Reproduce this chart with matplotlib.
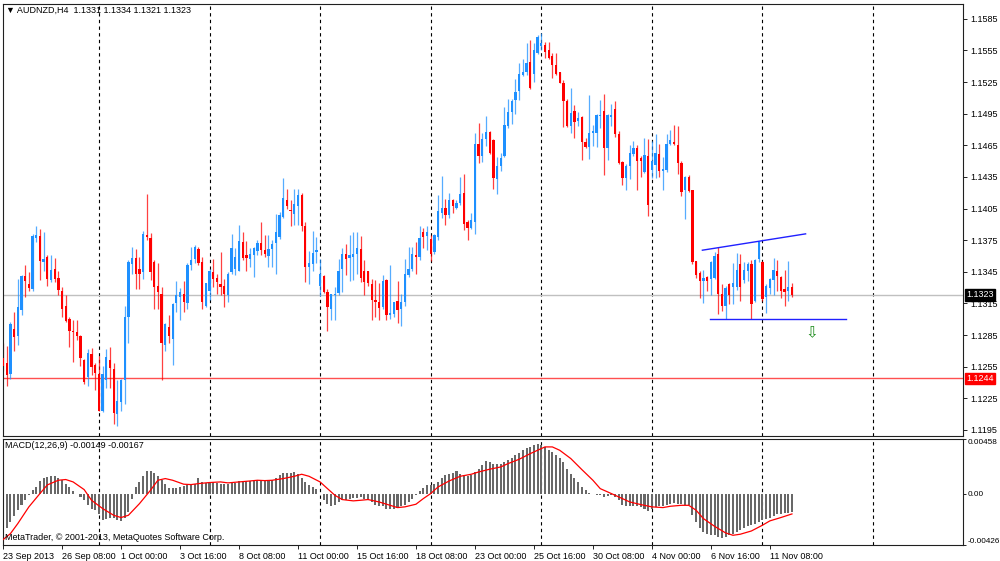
import numpy as np
import matplotlib
matplotlib.use('Agg')
import matplotlib.pyplot as plt

plt.rcParams['font.family'] = ['Liberation Sans', 'DejaVu Sans']
plt.rcParams['font.size'] = 6.5

# ---- AUDNZD H4 candles (bar 1 = 23 Sep 2013, last bar = 12 Nov 12:00) ----
opens = [
    1.1263, 1.1258, 1.1248, 1.1291, 1.1284, 1.1309, 1.1341, 1.1333, 1.1329, 1.1377,
    1.1379, 1.1354, 1.1359, 1.1337, 1.1348, 1.1339, 1.1327, 1.1313, 1.1300, 1.1289,
    1.1288, 1.1284, 1.1261, 1.1245, 1.1267, 1.1257, 1.1248, 1.1213, 1.1242, 1.1261,
    1.1253, 1.1210, 1.1221, 1.1242, 1.1302, 1.1352, 1.1358, 1.1348, 1.1345, 1.1380,
    1.1377, 1.1354, 1.1332, 1.1324, 1.1276, 1.1293, 1.1281, 1.1315, 1.1321, 1.1324,
    1.1315, 1.1351, 1.1357, 1.1367, 1.1354, 1.1313, 1.1327, 1.1345, 1.1339, 1.1333,
    1.1332, 1.1323, 1.1345, 1.1348, 1.1346, 1.1373, 1.1361, 1.1357, 1.1361, 1.1365,
    1.1372, 1.1366, 1.1360, 1.1367, 1.1372, 1.1378, 1.1397, 1.1413, 1.1404, 1.1400,
    1.1407, 1.1418, 1.1388, 1.1350, 1.1352, 1.1364, 1.1332, 1.1341, 1.1326, 1.1310,
    1.1323, 1.1325, 1.1348, 1.1362, 1.1358, 1.1359, 1.1362, 1.1367, 1.1346, 1.1346,
    1.1333, 1.1318, 1.1316, 1.1312, 1.1337, 1.1304, 1.1305, 1.1317, 1.1310, 1.1316,
    1.1342, 1.1348, 1.1361, 1.1359, 1.1383, 1.1379, 1.1376, 1.1364, 1.1378, 1.1401,
    1.1406, 1.1399, 1.1413, 1.1406, 1.1410, 1.1420, 1.1392, 1.1387, 1.1392, 1.1466,
    1.1455, 1.1471, 1.1478, 1.1470, 1.1433, 1.1445, 1.1455, 1.1483, 1.1497, 1.1508,
    1.1517, 1.1532, 1.1535, 1.1544, 1.1533, 1.1553, 1.1559, 1.1560, 1.1555, 1.1550,
    1.1541, 1.1535, 1.1524, 1.1507, 1.1483, 1.1498, 1.1488, 1.1492, 1.1468, 1.1463,
    1.1477, 1.1477, 1.1493, 1.1498, 1.1462, 1.1492, 1.1499, 1.1476, 1.1449, 1.1434,
    1.1445, 1.1457, 1.1462, 1.1453, 1.1440, 1.1455, 1.1442, 1.1446, 1.1457, 1.1441,
    1.1442, 1.1466, 1.1468, 1.1465, 1.1448, 1.1423, 1.1435, 1.1423, 1.1355, 1.1344,
    1.1336, 1.1340, 1.1338, 1.1339, 1.1362, 1.1324, 1.1313, 1.1333, 1.1331, 1.1331,
    1.1352, 1.1337, 1.1346, 1.1352, 1.1317, 1.1357, 1.1354, 1.1321, 1.1330, 1.1337,
    1.1346, 1.1340, 1.1329, 1.1327, 1.1331]

highs = [
    1.1277, 1.1275, 1.1297, 1.1307, 1.1338, 1.1342, 1.1351, 1.1345, 1.1381, 1.1388,
    1.1386, 1.1383, 1.1361, 1.1361, 1.1358, 1.1346, 1.1331, 1.1323, 1.1302, 1.1299,
    1.1299, 1.1285, 1.1262, 1.1272, 1.1273, 1.1258, 1.1265, 1.1256, 1.1272, 1.1274,
    1.1258, 1.1242, 1.1243, 1.1313, 1.1356, 1.1369, 1.1367, 1.1359, 1.1384, 1.1419,
    1.1382, 1.1356, 1.1353, 1.1331, 1.1296, 1.1304, 1.1315, 1.1336, 1.1330, 1.1336,
    1.1353, 1.1369, 1.1370, 1.1369, 1.1359, 1.1334, 1.1348, 1.1357, 1.1343, 1.1364,
    1.1338, 1.1345, 1.1381, 1.1368, 1.1389, 1.1383, 1.1374, 1.1368, 1.1369, 1.1375,
    1.1392, 1.1380, 1.1380, 1.1375, 1.1400, 1.1402, 1.1434, 1.1424, 1.1413, 1.1424,
    1.1424, 1.1420, 1.1392, 1.1365, 1.1384, 1.1378, 1.1357, 1.1342, 1.1329, 1.1324,
    1.1331, 1.1357, 1.1368, 1.1371, 1.1380, 1.1383, 1.1383, 1.1379, 1.1356, 1.1346,
    1.1338, 1.1337, 1.1334, 1.1342, 1.1338, 1.1351, 1.1316, 1.1336, 1.1324, 1.1357,
    1.1369, 1.1369, 1.1373, 1.1388, 1.1387, 1.1388, 1.1380, 1.1381, 1.1418, 1.1436,
    1.1414, 1.1420, 1.1414, 1.1413, 1.1435, 1.1438, 1.1394, 1.1401, 1.1477, 1.1486,
    1.1477, 1.1493, 1.1479, 1.1471, 1.1454, 1.1458, 1.1501, 1.1509, 1.1509, 1.1528,
    1.1543, 1.1547, 1.1562, 1.1565, 1.1562, 1.1570, 1.1572, 1.1563, 1.1563, 1.1553,
    1.1553, 1.1535, 1.1527, 1.1509, 1.1519, 1.1503, 1.1497, 1.1493, 1.1472, 1.1513,
    1.1484, 1.1495, 1.1508, 1.1514, 1.1495, 1.1504, 1.1507, 1.1479, 1.1450, 1.1447,
    1.1465, 1.1469, 1.1465, 1.1455, 1.1472, 1.1471, 1.1469, 1.1476, 1.1466, 1.1454,
    1.1476, 1.1480, 1.1484, 1.1483, 1.1450, 1.1436, 1.1437, 1.1423, 1.1355, 1.1346,
    1.1347, 1.1341, 1.1355, 1.1364, 1.1369, 1.1333, 1.1332, 1.1334, 1.1353, 1.1363,
    1.1362, 1.1354, 1.1354, 1.1356, 1.1357, 1.1374, 1.1355, 1.1333, 1.1339, 1.1358,
    1.1356, 1.1341, 1.1347, 1.1355, 1.1334]

lows = [
    1.1251, 1.1237, 1.1243, 1.1270, 1.1276, 1.1304, 1.1321, 1.1327, 1.1327, 1.1373,
    1.1337, 1.1346, 1.1332, 1.1335, 1.1335, 1.1323, 1.1302, 1.1297, 1.1274, 1.1259,
    1.1280, 1.1256, 1.1239, 1.1237, 1.1247, 1.1233, 1.1213, 1.1212, 1.1235, 1.1235,
    1.1201, 1.1199, 1.1213, 1.1220, 1.1277, 1.1343, 1.1329, 1.1329, 1.1338, 1.1375,
    1.1337, 1.1310, 1.1310, 1.1242, 1.1270, 1.1277, 1.1257, 1.1307, 1.1299, 1.1307,
    1.1310, 1.1347, 1.1353, 1.1351, 1.1310, 1.1312, 1.1318, 1.1331, 1.1324, 1.1323,
    1.1312, 1.1316, 1.1343, 1.1342, 1.1346, 1.1356, 1.1346, 1.1350, 1.1340, 1.1361,
    1.1361, 1.1359, 1.1350, 1.1350, 1.1343, 1.1376, 1.1396, 1.1405, 1.1388, 1.1389,
    1.1389, 1.1384, 1.1335, 1.1333, 1.1346, 1.1353, 1.1322, 1.1325, 1.1289, 1.1299,
    1.1299, 1.1323, 1.1326, 1.1342, 1.1336, 1.1337, 1.1343, 1.1335, 1.1323, 1.1332,
    1.1299, 1.1302, 1.1299, 1.1310, 1.1299, 1.1300, 1.1302, 1.1296, 1.1294, 1.1313,
    1.1340, 1.1346, 1.1343, 1.1356, 1.1368, 1.1366, 1.1355, 1.1362, 1.1375, 1.1396,
    1.1389, 1.1396, 1.1401, 1.1405, 1.1408, 1.1385, 1.1375, 1.1386, 1.1381, 1.1448,
    1.1449, 1.1464, 1.1457, 1.1424, 1.1419, 1.1441, 1.1454, 1.1481, 1.1485, 1.1495,
    1.1508, 1.1531, 1.1532, 1.1518, 1.1525, 1.1552, 1.1555, 1.1548, 1.1547, 1.1529,
    1.1532, 1.1524, 1.1482, 1.1482, 1.1477, 1.1472, 1.1483, 1.1451, 1.1462, 1.1452,
    1.1464, 1.1463, 1.1481, 1.1437, 1.1451, 1.1483, 1.1473, 1.1447, 1.1427, 1.1423,
    1.1433, 1.1455, 1.1423, 1.1435, 1.1439, 1.1398, 1.1434, 1.1434, 1.1435, 1.1423,
    1.1440, 1.1465, 1.1465, 1.1438, 1.1417, 1.1395, 1.1421, 1.1352, 1.1339, 1.1320,
    1.1315, 1.1327, 1.1323, 1.1338, 1.1305, 1.1308, 1.1300, 1.1314, 1.1314, 1.1328,
    1.1317, 1.1334, 1.1336, 1.1300, 1.1316, 1.1354, 1.1317, 1.1306, 1.1324, 1.1323,
    1.1327, 1.1320, 1.1313, 1.1317, 1.1321]

closes = [
    1.1256, 1.1247, 1.1295, 1.1283, 1.1312, 1.1341, 1.1336, 1.1330, 1.1379, 1.1380,
    1.1355, 1.1357, 1.1338, 1.1347, 1.1338, 1.1328, 1.1310, 1.1298, 1.1289, 1.1288,
    1.1284, 1.1263, 1.1240, 1.1268, 1.1255, 1.1249, 1.1213, 1.1248, 1.1264, 1.1254,
    1.1211, 1.1222, 1.1242, 1.1302, 1.1354, 1.1358, 1.1343, 1.1343, 1.1381, 1.1378,
    1.1345, 1.1331, 1.1326, 1.1277, 1.1295, 1.1284, 1.1314, 1.1323, 1.1326, 1.1316,
    1.1351, 1.1356, 1.1369, 1.1353, 1.1316, 1.1334, 1.1346, 1.1338, 1.1335, 1.1331,
    1.1324, 1.1343, 1.1368, 1.1359, 1.1374, 1.1358, 1.1358, 1.1362, 1.1368, 1.1372,
    1.1366, 1.1362, 1.1367, 1.1371, 1.1383, 1.1399, 1.1415, 1.1407, 1.1403, 1.1409,
    1.1418, 1.1388, 1.1350, 1.1353, 1.1363, 1.1366, 1.1343, 1.1326, 1.1312, 1.1324,
    1.1324, 1.1346, 1.1362, 1.1357, 1.1361, 1.1362, 1.1368, 1.1339, 1.1335, 1.1334,
    1.1318, 1.1316, 1.1311, 1.1336, 1.1304, 1.1306, 1.1316, 1.1309, 1.1316, 1.1343,
    1.1348, 1.1362, 1.1359, 1.1377, 1.1378, 1.1383, 1.1362, 1.1380, 1.1403, 1.1406,
    1.1399, 1.1413, 1.1407, 1.1410, 1.1419, 1.1390, 1.1387, 1.1394, 1.1466, 1.1455,
    1.1471, 1.1478, 1.1458, 1.1434, 1.1445, 1.1453, 1.1484, 1.1497, 1.1507, 1.1516,
    1.1533, 1.1535, 1.1543, 1.1519, 1.1555, 1.1568, 1.1562, 1.1554, 1.1548, 1.1541,
    1.1533, 1.1524, 1.1507, 1.1483, 1.1496, 1.1487, 1.1491, 1.1468, 1.1463, 1.1477,
    1.1479, 1.1494, 1.1494, 1.1462, 1.1494, 1.1494, 1.1476, 1.1448, 1.1434, 1.1445,
    1.1458, 1.1462, 1.1450, 1.1450, 1.1456, 1.1408, 1.1450, 1.1458, 1.1441, 1.1443,
    1.1466, 1.1470, 1.1466, 1.1448, 1.1421, 1.1435, 1.1422, 1.1354, 1.1342, 1.1336,
    1.1339, 1.1336, 1.1354, 1.1360, 1.1324, 1.1313, 1.1330, 1.1323, 1.1334, 1.1347,
    1.1331, 1.1347, 1.1352, 1.1314, 1.1356, 1.1373, 1.1319, 1.1332, 1.1338, 1.1347,
    1.1341, 1.1327, 1.1326, 1.1331, 1.1323]

# MACD(12,26,9) main line, shown as histogram (units of 1e-5)
macd_main = [
    -309, -281, -234, -186, -136, -95, -47, -11, 31, 58,
    108, 133, 142, 147, 147, 136, 114, 86, 58, 25,
    3, -25, -53, -95, -122, -136, -164, -220, -206, -197,
    -197, -214, -228, -197, -150, -39, 58, 100, 147, 189,
    189, 178, 147, 120, 86, 53, 53, 53, 58, 64,
    72, 81, 86, 136, 100, 92, 100, 100, 92, 86,
    81, 86, 92, 92, 108, 108, 108, 108, 114, 120,
    120, 114, 114, 114, 136, 156, 175, 178, 178, 183,
    170, 133, 100, 78, 58, 44, -3, -47, -81, -100,
    -95, -67, -53, -47, -39, -31, -31, -25, -39, -53,
    -67, -95, -103, -103, -122, -128, -128, -117, -103, -89,
    -67, -39, -11, 25, 50, 72, 72, 86, 100, 136,
    161, 170, 178, 189, 170, 156, 147, 161, 183, 211,
    239, 275, 267, 253, 247, 253, 267, 286, 303, 322,
    342, 364, 381, 389, 406, 414, 406, 392, 370, 350,
    322, 303, 267, 211, 170, 136, 100, 58, 31, 8,
    -3, -6, -11, -25, -19, -11, -25, -53, -95, -103,
    -103, -103, -103, -108, -122, -142, -122, -108, -103, -103,
    -95, -81, -72, -81, -86, -89, -95, -178, -234, -281,
    -317, -336, -345, -345, -359, -364, -359, -345, -331, -317,
    -297, -281, -270, -261, -247, -234, -220, -206, -197, -186,
    -170, -164, -158, -156, -149]

# signal line, read at these bars (units of 1e-5)
signal_bar = [1, 3, 5, 8, 11, 13, 16, 18, 20, 23, 25, 28, 31, 33, 35, 38, 41, 43, 45, 47,
              50, 52, 54, 57, 60, 62, 65, 68, 70, 72, 74, 77, 80, 82, 84, 87, 89, 91, 93, 96,
              98, 100, 103, 106, 108, 110, 113, 115, 117, 119, 122, 125, 128, 130, 133, 136,
              138, 141, 144, 146, 148, 150, 152, 155, 158, 161, 163, 166, 169, 171, 174, 177,
              180, 182, 185, 187, 189, 191, 194, 197, 199, 201, 204, 207, 209, 212, 215]
signal_val = [-381, -331, -247, -108, 3, 75, 114, 120, 100, 36, -53, -122, -178, -197, -178,
              -81, 31, 114, 128, 114, 81, 78, 86, 95, 100, 92, 100, 108, 114, 111, 114, 128,
              147, 164, 147, 100, 44, -11, -47, -58, -53, -47, -67, -95, -114, -108, -86, -39,
              3, 58, 108, 147, 164, 183, 206, 225, 253, 289, 336, 364, 392, 392, 364, 295, 203,
              114, 44, 3, -39, -67, -89, -108, -114, -103, -95, -95, -136, -206, -270, -325,
              -345, -336, -309, -261, -225, -197, -167]

# time axis labels every 16 bars
time_labels = ["23 Sep 2013", "26 Sep 08:00", "1 Oct 00:00", "3 Oct 16:00", "8 Oct 08:00",
               "11 Oct 00:00", "15 Oct 16:00", "18 Oct 08:00", "23 Oct 00:00", "25 Oct 16:00",
               "30 Oct 08:00", "4 Nov 00:00", "6 Nov 16:00", "11 Nov 08:00"]
label_bars = [1] + [17 + 16 * i for i in range(13)]
grid_bars = [27, 57, 87, 117, 147, 177, 207, 237]   # start of each week

price_ticks = np.round(np.arange(1.1195, 1.1586, 0.003), 4)
bid_price = 1.1323
level_price = 1.1244

# drawn objects: triangle upper line, support line, arrow
upper_line_bar = [190.7, 218.7]
upper_line_px = [1.13655, 1.1381]
support_bar = [192.8, 229.7]
support_px = [1.1300, 1.1300]
arrow_bar, arrow_price = 220.3, 1.1287

bars = np.arange(1, len(opens) + 1)
o = np.array(opens); h = np.array(highs); l = np.array(lows); c = np.array(closes)
up = c >= o
BULL = '#1E90FF'
BEAR = '#FF0000'

W, H = 1000, 561
fig = plt.figure(figsize=(W / 100, H / 100), dpi=100)
ax = fig.add_axes([3 / W, 1 - 436 / H, 960 / W, 432 / H])
ax2 = fig.add_axes([3 / W, 1 - 545 / H, 960 / W, 106 / H])

XMIN, XMAX = 0.98, 261.4
for a in (ax, ax2):
    a.set_xlim(XMIN, XMAX)
    for sp in a.spines.values():
        sp.set_linewidth(0.8)
        sp.set_color('#202020')
    for g in grid_bars:
        a.axvline(g, color='black', lw=0.8, ls=(0, (3, 3)), zorder=0)

# ---- price panel ----
ax.set_ylim(1.11892, 1.15991)
ax.axhline(bid_price, color='#C0C0C0', lw=1, zorder=1)
ax.axhline(level_price, color='#FF5050', lw=1, zorder=1)

col = np.where(up, BULL, BEAR)
ax.vlines(bars, l, h, colors=col, lw=0.9, alpha=0.75, zorder=2)
body_lo = np.minimum(o, c)
body_h = np.maximum(np.abs(c - o), 0.00008)
ax.bar(bars, body_h, bottom=body_lo, width=0.62, color=col, linewidth=0, zorder=3)

ax.plot(upper_line_bar, upper_line_px, color='#2020FF', lw=1, zorder=4)
ax.plot(support_bar, support_px, color='#2020FF', lw=1, zorder=4)
ax.text(arrow_bar, arrow_price, '\u21e9', color='#1a8a1a', fontsize=11,
        family='DejaVu Sans', ha='center', va='center', zorder=5)

ax.set_xticks([])
ax.yaxis.tick_right()
ax.set_yticks(price_ticks)
ax.set_yticklabels(['%.4f' % p for p in price_ticks])
ax.tick_params(axis='y', length=3, width=0.6, pad=2, labelsize=6.5)

ytr = ax.get_yaxis_transform()
ax.text(1.0035, bid_price, '%.4f' % bid_price, transform=ytr, color='white', fontsize=6.5,
        ha='left', va='center', clip_on=False, zorder=6,
        bbox=dict(boxstyle='square,pad=0.12', fc='black', ec='black'))
ax.text(1.0035, level_price, '%.4f' % level_price, transform=ytr, color='white', fontsize=6.5,
        ha='left', va='center', clip_on=False, zorder=6,
        bbox=dict(boxstyle='square,pad=0.12', fc='#FF0000', ec='#FF0000'))

fig.text(6 / W, 1 - 10 / H,
         '\u25bc AUDNZD,H4  %.4f %.4f %.4f %.4f' % (opens[-1], highs[-1], lows[-1], closes[-1]),
         fontsize=6.5, ha='left', va='center')

# ---- MACD panel ----
macd = np.array(macd_main) * 1e-5
sig = np.array(signal_val) * 1e-5
ax2.set_ylim(-0.00426, 0.00458)
ax2.bar(bars, macd, width=0.55, color='#686868', linewidth=0, zorder=2)
ax2.plot(signal_bar, sig, color='#FF0000', lw=0.9, zorder=3)

ax2.yaxis.tick_right()
ax2.set_yticks([-0.00426, 0.0, 0.00458])
ax2.set_yticklabels(['-0.00426', '0.00', '0.00458'])
ax2.tick_params(axis='y', length=2, width=0.6, pad=1, labelsize=5.9)
tl = ax2.get_yticklabels()
tl[0].set_va('bottom')
tl[2].set_va('top')

ax2.set_xticks(label_bars)
ax2.set_xticklabels(time_labels, ha='left')
ax2.tick_params(axis='x', length=3, width=0.6, pad=2, labelsize=6.5)

fig.text(5 / W, 1 - 446 / H, 'MACD(12,26,9) %.5f %.5f' % (macd[-1], sig[-1]),
         fontsize=6.5, ha='left', va='center')
fig.text(5 / W, 1 - 537 / H, 'MetaTrader, \u00a9 2001-2013, MetaQuotes Software Corp.',
         fontsize=6.5, ha='left', va='center')

fig.savefig('out.png', dpi=100, facecolor='white')
